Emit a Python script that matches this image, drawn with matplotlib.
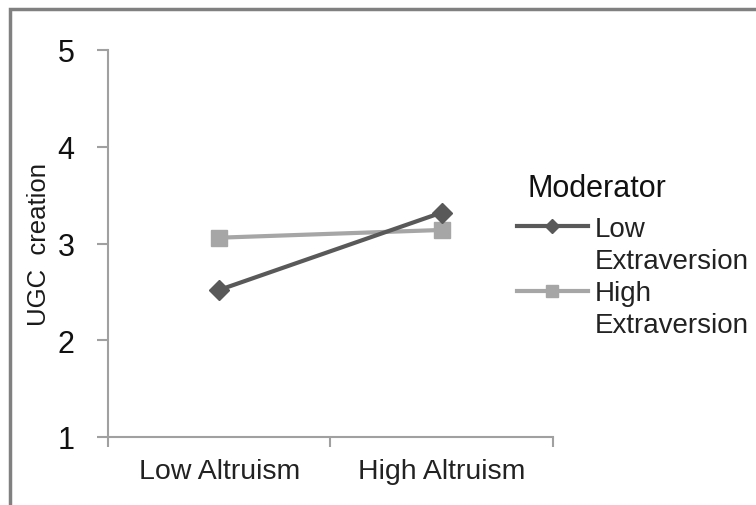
import matplotlib
matplotlib.use("Agg")
import matplotlib.pyplot as plt
from matplotlib.lines import Line2D
from matplotlib.patches import Rectangle

plt.rcParams['font.family'] = ['Liberation Sans', 'DejaVu Sans']

# data
categories = ['Low Altruism', 'High Altruism']
low_extra = [2.52, 3.32]
high_extra = [3.06, 3.14]
y_ticks = [1, 2, 3, 4, 5]

dark = '#595959'
light = '#a6a6a6'
axis_col = '#a0a0a0'

fig = plt.figure(figsize=(7.56, 5.06), dpi=100)
ax = fig.add_axes([108/756, 1 - 438/506, (553-108)/756, (438-51)/506])

x = list(range(len(categories)))
ax.plot(x, low_extra, color=dark, lw=3, marker='D', ms=10, zorder=3)
ax.plot(x, high_extra, color=light, lw=3, marker='s', ms=11, zorder=2)

ax.set_xlim(-0.5, 1.5)
ax.set_ylim(1, 5)
ax.set_yticks(y_ticks)
ax.set_yticklabels([str(t) for t in y_ticks], fontsize=22, color='#111111')
ax.set_xticks([-0.5, 0.5, 1.5], minor=False)
ax.set_xticklabels([])
ax.set_xticks(x, minor=True)
ax.set_xticklabels(categories, minor=True, fontsize=20.5, color='#222222')
ax.tick_params(axis='x', which='major', length=7, color=axis_col, width=1.5, direction='out')
ax.tick_params(axis='x', which='minor', length=0, pad=15)
ax.tick_params(axis='y', length=8, color=axis_col, width=1.5, pad=16)

for s in ['top', 'right']:
    ax.spines[s].set_visible(False)
for s in ['left', 'bottom']:
    ax.spines[s].set_color(axis_col)
    ax.spines[s].set_linewidth(1.5)
ax.spines['bottom'].set_bounds(-0.5, 1.5)

fig.text(39/756, 1 - 245/506, 'UGC  creation', rotation=90, fontsize=18.5,
         ha='center', va='center', color='#1a1a1a')

# legend
fig.text(528/756, 1 - 197/506, 'Moderator', fontsize=22, ha='left', va='baseline',
         color='#111111')
handles = [Line2D([], [], color=dark, lw=3, marker='D', ms=7),
           Line2D([], [], color='none'),
           Line2D([], [], color=light, lw=3, marker='s', ms=9),
           Line2D([], [], color='none')]
labels = ['Low', 'Extraversion', 'High', 'Extraversion']
leg = fig.legend(handles, labels, loc='upper left', bbox_to_anchor=(517/756, 1 - 217/506),
                 frameon=False, fontsize=20, handlelength=2.55, handletextpad=0.25,
                 labelspacing=0.22, borderpad=0, borderaxespad=0)
for t in leg.get_texts():
    t.set_color('#222222')

# outer frame (only top and left visible in the crop)
fig.patches.append(Rectangle((10/756, -0.2), 1.3, 1 - 10/506 + 0.2, transform=fig.transFigure,
                             fill=False, edgecolor='#808080', lw=2.5))

fig.savefig('out.png', dpi=100)
